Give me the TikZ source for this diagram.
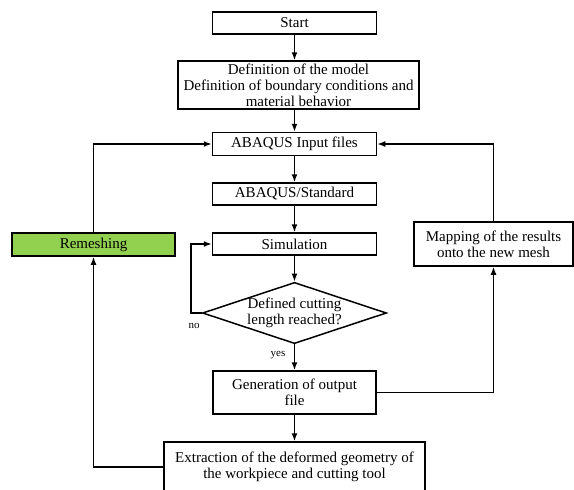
\documentclass[tikz,border=0pt]{standalone}
\usepackage{fontspec}
\setmainfont{Liberation Serif}
\usetikzlibrary{shapes.geometric,arrows.meta}
\definecolor{remgreen}{RGB}{146,208,80}
\begin{document}
\begin{tikzpicture}[x=1pt,y=-1pt,
  box/.style={draw,line width=1.5pt,inner sep=0pt,align=center,font=\fontsize{15}{16}\selectfont},
  lab/.style={font=\fontsize{11}{12}\selectfont,inner sep=0pt},
  arr/.style={line width=1.5pt,-{Latex[length=8pt,width=6pt]}},
  ln/.style={line width=1.5pt}]
\useasboundingbox (0,0) rectangle (574,490);
\clip (0,0) rectangle (574,490);
\node[box,minimum width=164pt,minimum height=22pt] (start) at (294.5,23) {Start};
\node[box,minimum width=241pt,minimum height=48pt] (def) at (298.5,85) {Definition of the model\\Definition of boundary conditions and\\material behavior};
\node[box,minimum width=164pt,minimum height=23pt] (input) at (294.5,144) {ABAQUS Input files};
\node[box,minimum width=164pt,minimum height=22pt] (std) at (294.5,194) {ABAQUS/Standard};
\node[box,minimum width=164pt,minimum height=22pt] (sim) at (294.5,244) {Simulation};
\node[box,diamond,aspect=3,minimum width=184pt,minimum height=60pt] (dec) at (294.5,313) {Defined cutting\\length reached?};
\node[box,minimum width=163pt,minimum height=43pt] (gen) at (294.5,392.5) {Generation of output\\file};
\node[box,minimum width=261pt,minimum height=50pt] (ext) at (294.5,467) {Extraction of the deformed geometry of\\the workpiece and cutting tool};
\node[box,minimum width=159pt,minimum height=44pt] (map) at (493.5,244) {Mapping of the results\\onto the new mesh};
\node[box,fill=remgreen,minimum width=163pt,minimum height=23pt] (rem) at (93.5,244.5) {Remeshing};
\coordinate (noc) at (191,313);
\node[lab] (no) at (194,326) {no};
\node[lab] (yes) at (278,355) {yes};
\draw[arr] (start) -- (start |- def.north);
\draw[arr] (def.south -| input) -- (input);
\draw[arr] (input) -- (std);
\draw[arr] (std) -- (sim);
\draw[arr] (sim) -- (dec);
\draw[arr] (dec.south) -- (gen);
\draw[arr] (gen) -- (ext);
\draw[arr] (dec.west) -- (noc) |- (sim.west);
\draw[arr] (gen.east) -| (map.south);
\draw[arr] (map.north) |- (input.east);
\draw[arr] (ext.west) -| (rem.south);
\draw[arr] (rem.north) |- (input.west);
\end{tikzpicture}
\end{document}
